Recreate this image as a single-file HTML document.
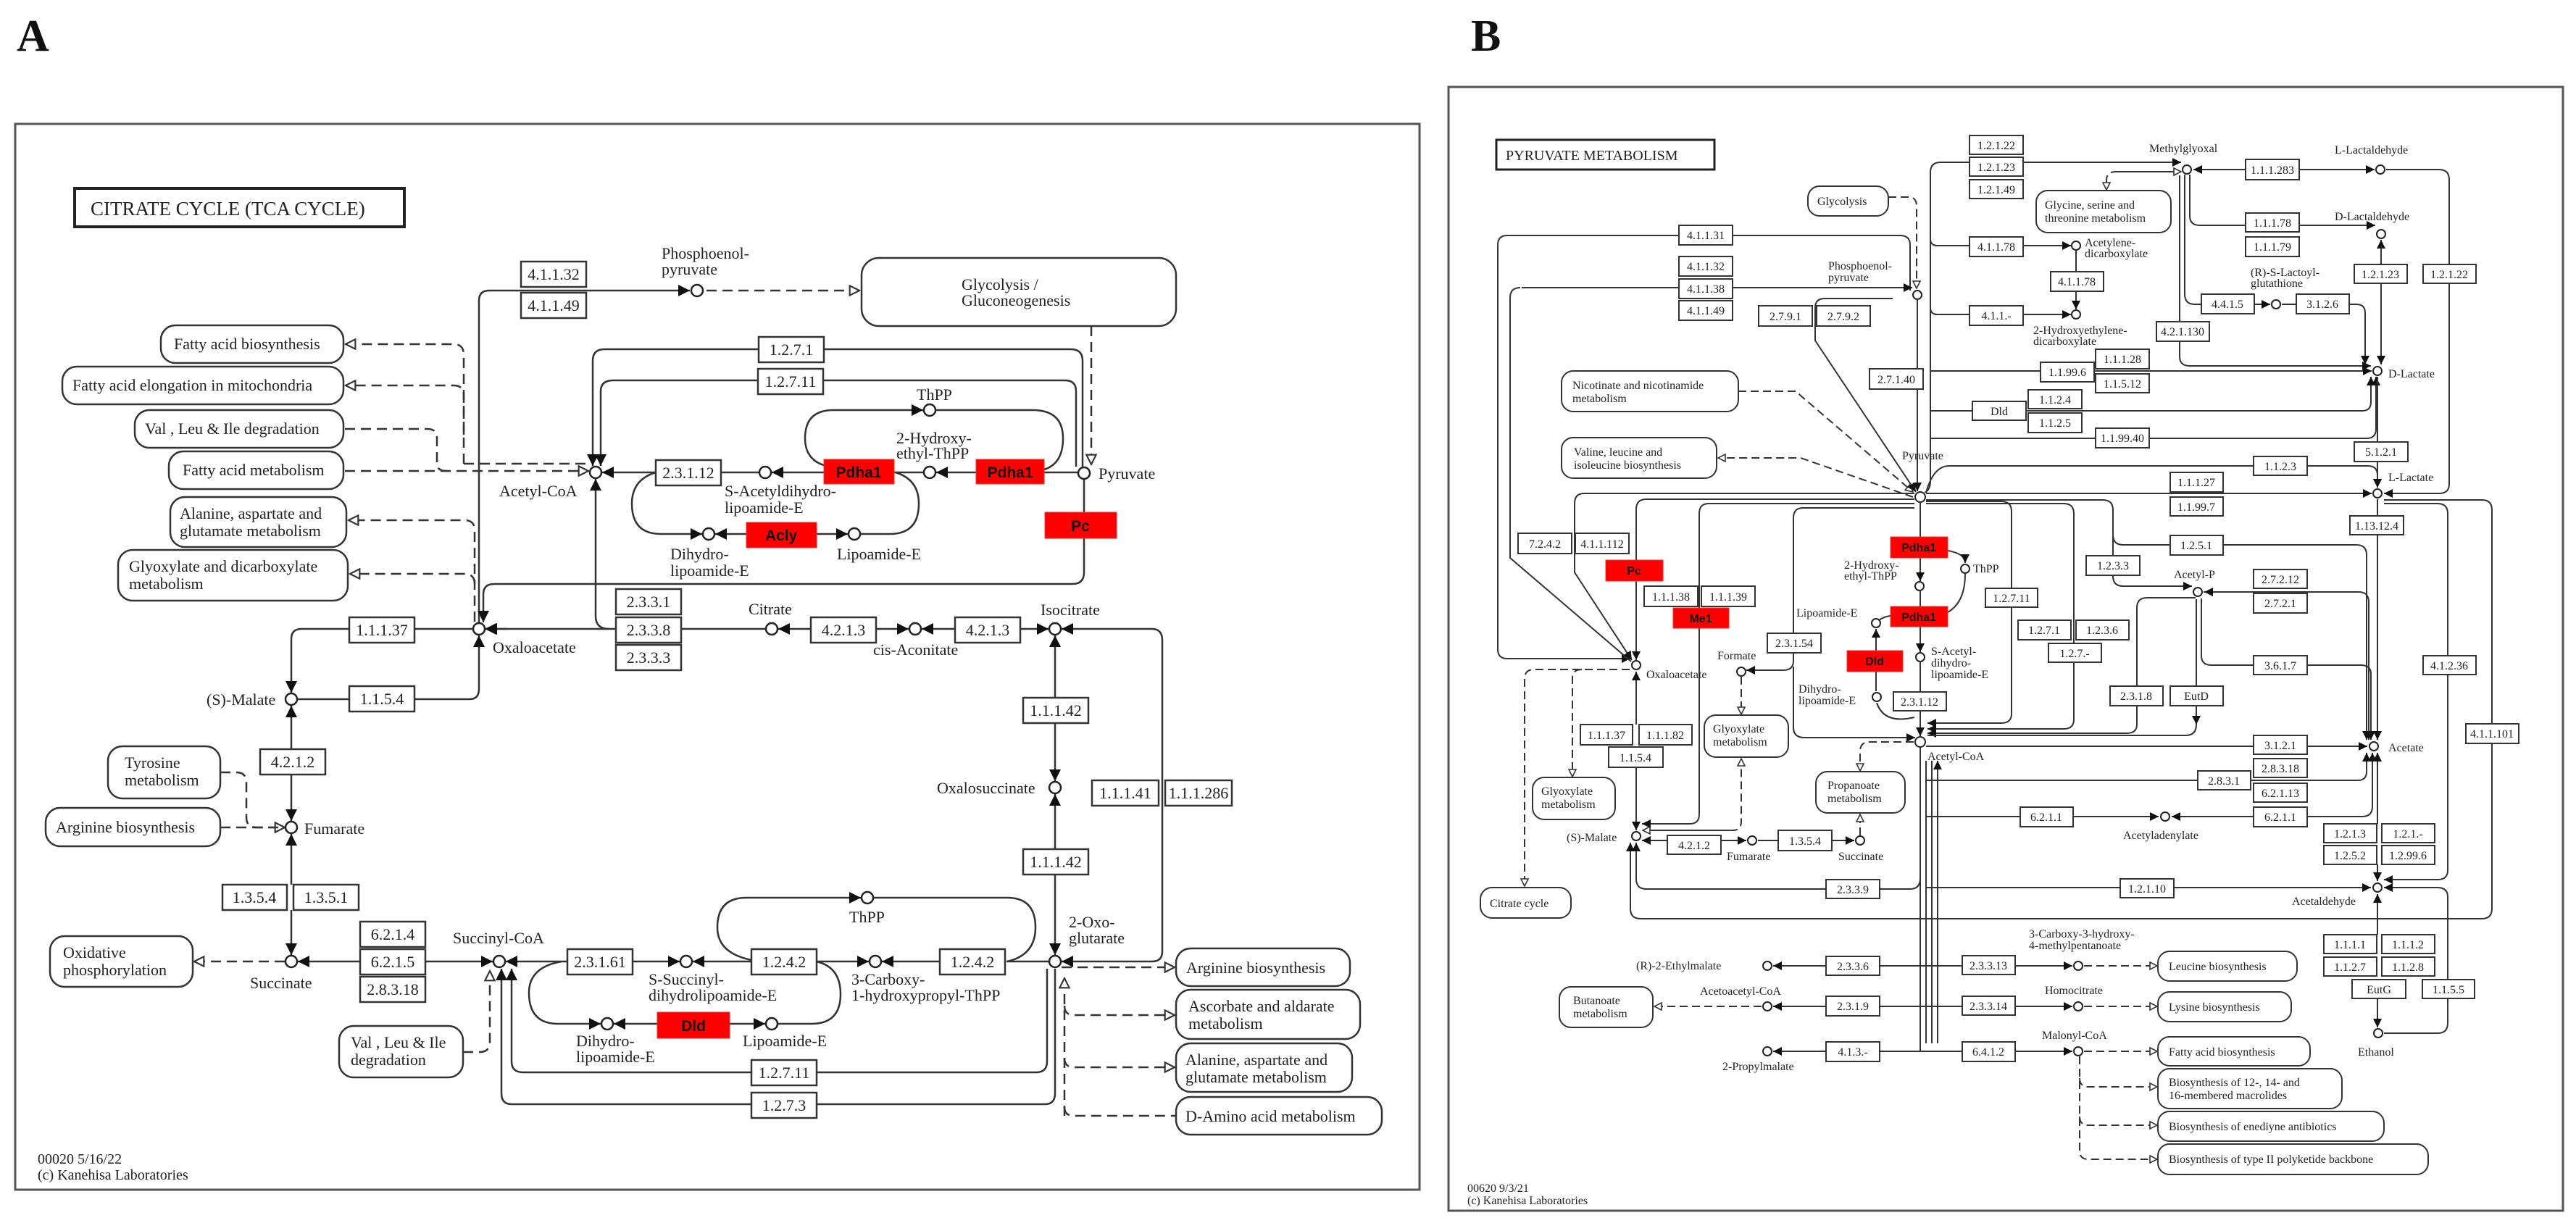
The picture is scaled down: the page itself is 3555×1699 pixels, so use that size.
<!DOCTYPE html>
<html><head><meta charset="utf-8"><style>
html,body{margin:0;padding:0;background:#fff;}
svg{display:block;}
.t{font-family:"Liberation Serif",serif;fill:#222;}
.A{font-size:22px;}
.B{font-size:16px;}
.c{text-anchor:middle;}
.e{fill:#fff;stroke:#333;stroke-width:2.5;}
.eb{fill:#fff;stroke:#333;stroke-width:2;}
.r{fill:#f00;stroke:#e33;stroke-width:1;}
.rt{font-family:"Liberation Sans",sans-serif;font-weight:bold;fill:#111;text-anchor:middle;}
.m{fill:#fff;stroke:#333;stroke-width:2.5;}
.ln{fill:none;stroke:#333;stroke-width:2.5;}
.lb{fill:none;stroke:#333;stroke-width:2;}
.d{fill:none;stroke:#333;stroke-width:2.5;stroke-dasharray:14,8;}
.db{fill:none;stroke:#333;stroke-width:2;stroke-dasharray:11,6;}
.cA{fill:#fff;stroke:#222;stroke-width:2.5;}
.cB{fill:#fff;stroke:#222;stroke-width:2;}
</style></head><body>
<svg width="3555" height="1699" viewBox="0 0 3555 1699" xmlns="http://www.w3.org/2000/svg">
<defs>
<marker id="f" viewBox="0 0 10 10" refX="10" refY="5" markerWidth="16" markerHeight="16" markerUnits="userSpaceOnUse" orient="auto"><path d="M0,0L10,5L0,10z" fill="#111"/></marker>
<marker id="o" viewBox="0 0 12 12" refX="11" refY="6" markerWidth="16" markerHeight="16" markerUnits="userSpaceOnUse" orient="auto"><path d="M1,1L11,6L1,11z" fill="#fff" stroke="#333" stroke-width="1.6"/></marker>
<marker id="g" viewBox="0 0 10 10" refX="10" refY="5" markerWidth="12" markerHeight="12" markerUnits="userSpaceOnUse" orient="auto"><path d="M0,0L10,5L0,10z" fill="#111"/></marker>
<marker id="p" viewBox="0 0 12 12" refX="11" refY="6" markerWidth="12" markerHeight="12" markerUnits="userSpaceOnUse" orient="auto"><path d="M1,1L11,6L1,11z" fill="#fff" stroke="#333" stroke-width="1.6"/></marker>
</defs>
<rect width="3555" height="1699" fill="#fff"/>
<text x="23" y="70" font-family="Liberation Serif,serif" font-weight="bold" font-size="62" fill="#111">A</text>
<text x="2030" y="70" font-family="Liberation Serif,serif" font-weight="bold" font-size="62" fill="#111">B</text>

<!-- ================= PANEL A ================= -->
<rect x="21" y="171" width="1938" height="1471" fill="none" stroke="#555" stroke-width="3"/>
<rect x="103" y="260" width="455" height="53" fill="#fff" stroke="#222" stroke-width="4"/>
<text class="t" x="125" y="297" font-size="27">CITRATE  CYCLE (TCA CYCLE)</text>

<!-- map boxes A -->
<rect class="m" x="1189" y="356" width="434" height="94" rx="24"/>
<text class="t A" x="1327" y="400" font-size="24">Glycolysis /</text><text class="t A" x="1327" y="422" font-size="24">Gluconeogenesis</text>
<rect class="m" x="222" y="449" width="252" height="52" rx="20"/><text class="t A" x="240" y="482">Fatty acid biosynthesis</text>
<rect class="m" x="86" y="506" width="388" height="52" rx="20"/><text class="t A" x="100" y="539">Fatty acid elongation in mitochondria</text>
<rect class="m" x="186" y="566" width="288" height="52" rx="20"/><text class="t A" x="200" y="599">Val , Leu &amp; Ile degradation</text>
<rect class="m" x="233" y="623" width="241" height="52" rx="20"/><text class="t A" x="252" y="656">Fatty acid metabolism</text>
<rect class="m" x="235" y="686" width="243" height="69" rx="20"/><text class="t A" x="248" y="716">Alanine, aspartate and</text><text class="t A" x="248" y="740">glutamate metabolism</text>
<rect class="m" x="163" y="759" width="317" height="70" rx="20"/><text class="t A" x="178" y="789">Glyoxylate and dicarboxylate</text><text class="t A" x="178" y="813">metabolism</text>
<rect class="m" x="149" y="1030" width="155" height="72" rx="20"/><text class="t A" x="172" y="1060">Tyrosine</text><text class="t A" x="172" y="1084">metabolism</text>
<rect class="m" x="63" y="1115" width="241" height="53" rx="20"/><text class="t A" x="77" y="1149">Arginine biosynthesis</text>
<rect class="m" x="69" y="1292" width="197" height="70" rx="20"/><text class="t A" x="87" y="1322">Oxidative</text><text class="t A" x="87" y="1346">phosphorylation</text>
<rect class="m" x="468" y="1416" width="171" height="71" rx="20"/><text class="t A" x="484" y="1446">Val , Leu &amp; Ile</text><text class="t A" x="484" y="1470">degradation</text>
<rect class="m" x="1623" y="1309" width="240" height="52" rx="20"/><text class="t A" x="1637" y="1343">Arginine biosynthesis</text>
<rect class="m" x="1623" y="1366" width="254" height="68" rx="20"/><text class="t A" x="1640" y="1396">Ascorbate and aldarate</text><text class="t A" x="1640" y="1420">metabolism</text>
<rect class="m" x="1623" y="1440" width="243" height="67" rx="20"/><text class="t A" x="1636" y="1470">Alanine, aspartate and</text><text class="t A" x="1636" y="1494">glutamate metabolism</text>
<rect class="m" x="1623" y="1514" width="284" height="52" rx="20"/><text class="t A" x="1636" y="1548">D-Amino acid metabolism</text>

<!-- dashed A -->
<path class="d" d="M975,401H1186" marker-end="url(#o)"/>
<path class="d" d="M1506,450V641" marker-end="url(#o)"/>
<path class="d" d="M640,640V490Q640,475 626,475H477" marker-end="url(#o)"/>
<path class="d" d="M640,600V546Q640,532 626,532H477" marker-end="url(#o)"/>
<path class="d" d="M476,592H590Q603,592 603,605V640Q603,650 616,650"/>
<path class="d" d="M476,650H812" marker-end="url(#o)"/>
<path class="d" d="M640,640H812"/>
<path class="d" d="M655,858V732Q655,718 641,718H481" marker-end="url(#o)"/>
<path class="d" d="M655,806Q655,792 641,792H483" marker-end="url(#o)"/>
<path class="d" d="M393,1327H268" marker-end="url(#o)"/>
<path class="d" d="M304,1066H326Q340,1066 340,1080V1128Q340,1142 354,1142H393" marker-end="url(#o)"/>
<path class="d" d="M304,1142H393"/>
<path class="d" d="M639,1452H662Q676,1452 676,1438V1340" marker-end="url(#o)"/>
<path class="d" d="M1465,1335H1621" marker-end="url(#o)"/>
<path class="d" d="M1469,1540V1350" marker-end="url(#o)"/>
<path class="d" d="M1469,1388Q1469,1401 1482,1401H1621" marker-end="url(#o)"/>
<path class="d" d="M1469,1460Q1469,1473 1482,1473H1621" marker-end="url(#o)"/>
<path class="d" d="M1469,1528Q1469,1540 1482,1540H1623"/>

<!-- solid A -->
<path class="ln" d="M661,859V415Q661,401 675,401H952" marker-end="url(#f)"/>
<path class="ln" d="M1494,644V498Q1494,482 1478,482H834Q818,482 818,498V643" marker-end="url(#f)"/>
<path class="ln" d="M1485,644V540Q1485,525 1470,525H846Q829,525 829,540V643" marker-end="url(#f)"/>
<path class="ln" d="M1496,661V790Q1496,806 1480,806H682Q667,806 667,820V859" marker-end="url(#f)"/>
<path class="ln" d="M1488,652H1441M1347,652H1292" marker-end="url(#f)"/>
<path class="ln" d="M1275,652H1234M1137,652H1065" marker-end="url(#f)"/>
<path class="ln" d="M1048,652H995M905,652H831" marker-end="url(#f)"/>
<path class="ln" d="M1150,645Q1111,640 1111,605Q1111,566 1150,566H1274" marker-end="url(#f)"/>
<path class="ln" d="M1291,566H1425Q1467,566 1467,605Q1467,640 1441,648"/>
<path class="ln" d="M905,652Q872,662 872,695Q872,737 912,737H969" marker-end="url(#f)"/>
<path class="ln" d="M1030,737H987" marker-end="url(#f)"/>
<path class="ln" d="M1127,737H1170" marker-end="url(#f)"/>
<path class="ln" d="M1187,737H1228Q1268,737 1268,695Q1268,662 1236,652"/>
<path class="ln" d="M840,868Q822,868 822,850V661" marker-end="url(#f)"/>
<path class="ln" d="M1056,868H669" marker-end="url(#f)"/>
<path class="ln" d="M700,868H670" marker-end="url(#f)"/>
<path class="ln" d="M1119,868H1074" marker-end="url(#f)"/>
<path class="ln" d="M1209,868H1254" marker-end="url(#f)"/>
<path class="ln" d="M1318,868H1272" marker-end="url(#f)"/>
<path class="ln" d="M1406,868H1447" marker-end="url(#f)"/>
<path class="ln" d="M1456,963V877" marker-end="url(#f)"/>
<path class="ln" d="M1456,996V1078" marker-end="url(#f)"/>
<path class="ln" d="M1456,1172V1096" marker-end="url(#f)"/>
<path class="ln" d="M1456,1207V1318" marker-end="url(#f)"/>
<path class="ln" d="M1590,1327Q1604,1327 1604,1313V884Q1604,868 1590,868H1465" marker-end="url(#f)"/>
<path class="ln" d="M1590,1327H1465" marker-end="url(#f)"/>
<path class="ln" d="M652,868H416Q402,868 402,882V956" marker-end="url(#f)"/>
<path class="ln" d="M411,965H648Q661,965 661,951V877" marker-end="url(#f)"/>
<path class="ln" d="M402,1034V974" marker-end="url(#f)"/>
<path class="ln" d="M402,1069V1133" marker-end="url(#f)"/>
<path class="ln" d="M402,1221V1151" marker-end="url(#f)"/>
<path class="ln" d="M402,1256V1318" marker-end="url(#f)"/>
<path class="ln" d="M497,1327H411" marker-end="url(#f)"/>
<path class="ln" d="M588,1327H680" marker-end="url(#f)"/>
<path class="ln" d="M783,1327H698" marker-end="url(#f)"/>
<path class="ln" d="M873,1327H938" marker-end="url(#f)"/>
<path class="ln" d="M1037,1327H956" marker-end="url(#f)"/>
<path class="ln" d="M1127,1327H1199" marker-end="url(#f)"/>
<path class="ln" d="M1297,1327H1217" marker-end="url(#f)"/>
<path class="ln" d="M1389,1327H1447"/>
<path class="ln" d="M1050,1327Q990,1320 990,1280Q990,1239 1030,1239H1188" marker-end="url(#f)"/>
<path class="ln" d="M1206,1239H1390Q1429,1239 1429,1280Q1429,1318 1390,1327"/>
<path class="ln" d="M775,1327Q730,1335 730,1370Q730,1413 770,1413H829" marker-end="url(#f)"/>
<path class="ln" d="M907,1413H847" marker-end="url(#f)"/>
<path class="ln" d="M1007,1413H1056" marker-end="url(#f)"/>
<path class="ln" d="M1073,1413H1120Q1160,1413 1160,1372Q1160,1335 1127,1327"/>
<path class="ln" d="M1445,1337V1465Q1445,1480 1430,1480H722Q706,1480 706,1465V1337" marker-end="url(#f)"/>
<path class="ln" d="M1456,1337V1509Q1456,1524 1442,1524H706Q692,1524 692,1509V1337" marker-end="url(#f)"/>

<!-- enzymes A -->
<g>
<rect class="e" x="719" y="361" width="90" height="35"/><text class="t A c" x="764" y="386">4.1.1.32</text>
<rect class="e" x="719" y="404" width="90" height="35"/><text class="t A c" x="764" y="429">4.1.1.49</text>
<rect class="e" x="1047" y="465" width="90" height="35"/><text class="t A c" x="1092" y="490">1.2.7.1</text>
<rect class="e" x="1046" y="509" width="90" height="35"/><text class="t A c" x="1091" y="534">1.2.7.11</text>
<rect class="e" x="905" y="635" width="90" height="35"/><text class="t A c" x="950" y="660">2.3.1.12</text>
<rect class="e" x="850" y="813" width="90" height="35"/><text class="t A c" x="895" y="838">2.3.3.1</text>
<rect class="e" x="850" y="852" width="90" height="35"/><text class="t A c" x="895" y="877">2.3.3.8</text>
<rect class="e" x="850" y="890" width="90" height="35"/><text class="t A c" x="895" y="915">2.3.3.3</text>
<rect class="e" x="1119" y="852" width="90" height="35"/><text class="t A c" x="1164" y="877">4.2.1.3</text>
<rect class="e" x="1318" y="852" width="90" height="35"/><text class="t A c" x="1363" y="877">4.2.1.3</text>
<rect class="e" x="482" y="852" width="90" height="35"/><text class="t A c" x="527" y="877">1.1.1.37</text>
<rect class="e" x="482" y="947" width="90" height="35"/><text class="t A c" x="527" y="972">1.1.5.4</text>
<rect class="e" x="359" y="1034" width="90" height="35"/><text class="t A c" x="404" y="1059">4.2.1.2</text>
<rect class="e" x="1412" y="963" width="90" height="35"/><text class="t A c" x="1457" y="988">1.1.1.42</text>
<rect class="e" x="1412" y="1172" width="90" height="35"/><text class="t A c" x="1457" y="1197">1.1.1.42</text>
<rect class="e" x="1507" y="1077" width="92" height="35"/><text class="t A c" x="1553" y="1102">1.1.1.41</text>
<rect class="e" x="1608" y="1077" width="92" height="35"/><text class="t A c" x="1654" y="1102">1.1.1.286</text>
<rect class="e" x="307" y="1221" width="89" height="35"/><text class="t A c" x="351" y="1246">1.3.5.4</text>
<rect class="e" x="405" y="1221" width="90" height="35"/><text class="t A c" x="450" y="1246">1.3.5.1</text>
<rect class="e" x="497" y="1272" width="90" height="35"/><text class="t A c" x="542" y="1297">6.2.1.4</text>
<rect class="e" x="497" y="1310" width="90" height="35"/><text class="t A c" x="542" y="1335">6.2.1.5</text>
<rect class="e" x="497" y="1348" width="90" height="35"/><text class="t A c" x="542" y="1373">2.8.3.18</text>
<rect class="e" x="783" y="1310" width="90" height="35"/><text class="t A c" x="828" y="1335">2.3.1.61</text>
<rect class="e" x="1037" y="1310" width="90" height="35"/><text class="t A c" x="1082" y="1335">1.2.4.2</text>
<rect class="e" x="1297" y="1310" width="90" height="35"/><text class="t A c" x="1342" y="1335">1.2.4.2</text>
<rect class="e" x="1037" y="1463" width="90" height="35"/><text class="t A c" x="1082" y="1488">1.2.7.11</text>
<rect class="e" x="1037" y="1508" width="90" height="35"/><text class="t A c" x="1082" y="1533">1.2.7.3</text>
</g>
<rect class="r" x="1137" y="634" width="97" height="34"/><text class="rt" x="1185" y="659" font-size="21">Pdha1</text>
<rect class="r" x="1347" y="634" width="94" height="34"/><text class="rt" x="1394" y="659" font-size="21">Pdha1</text>
<rect class="r" x="1030" y="721" width="97" height="35"/><text class="rt" x="1078" y="746" font-size="21">Acly</text>
<rect class="r" x="1442" y="707" width="99" height="36"/><text class="rt" x="1491" y="733" font-size="21">Pc</text>
<rect class="r" x="907" y="1397" width="100" height="36"/><text class="rt" x="957" y="1423" font-size="21">Dld</text>

<!-- circles A -->
<g class="cA">
<circle cx="962" cy="401" r="8"/><circle cx="822" cy="652" r="8"/><circle cx="1056" cy="652" r="8"/><circle cx="1283" cy="652" r="8"/>
<circle cx="1283" cy="566" r="8"/><circle cx="1496" cy="653" r="8"/><circle cx="978" cy="737" r="8"/><circle cx="1179" cy="737" r="8"/>
<circle cx="661" cy="868" r="8"/><circle cx="1065" cy="868" r="8"/><circle cx="1263" cy="868" r="8"/><circle cx="1456" cy="868" r="8"/>
<circle cx="1456" cy="1087" r="8"/><circle cx="1456" cy="1327" r="8"/><circle cx="402" cy="965" r="8"/><circle cx="402" cy="1142" r="8"/>
<circle cx="402" cy="1327" r="8"/><circle cx="689" cy="1327" r="8"/><circle cx="947" cy="1327" r="8"/><circle cx="1208" cy="1327" r="8"/>
<circle cx="1197" cy="1239" r="8"/><circle cx="838" cy="1413" r="8"/><circle cx="1065" cy="1413" r="8"/>
</g>
<!-- labels A -->
<g class="t A">
<text x="913" y="357">Phosphoenol-</text><text x="913" y="379">pyruvate</text>
<text x="1516" y="661">Pyruvate</text>
<text x="1265" y="552">ThPP</text>
<text x="1237" y="612">2-Hydroxy-</text><text x="1237" y="633">ethyl-ThPP</text>
<text x="689" y="685">Acetyl-CoA</text>
<text x="1000" y="685">S-Acetyldihydro-</text><text x="1000" y="708">lipoamide-E</text>
<text x="925" y="772">Dihydro-</text><text x="925" y="795">lipoamide-E</text>
<text x="1155" y="772">Lipoamide-E</text>
<text x="1033" y="848">Citrate</text>
<text x="1436" y="849">Isocitrate</text>
<text x="1205" y="904">cis-Aconitate</text>
<text x="680" y="901">Oxaloacetate</text>
<text x="285" y="973">(S)-Malate</text>
<text x="420" y="1151">Fumarate</text>
<text x="1293" y="1095">Oxalosuccinate</text>
<text x="345" y="1364">Succinate</text>
<text x="625" y="1302">Succinyl-CoA</text>
<text x="1172" y="1273">ThPP</text>
<text x="1475" y="1280">2-Oxo-</text><text x="1475" y="1302">glutarate</text>
<text x="895" y="1359">S-Succinyl-</text><text x="895" y="1381">dihydrolipoamide-E</text>
<text x="1175" y="1359">3-Carboxy-</text><text x="1175" y="1381">1-hydroxypropyl-ThPP</text>
<text x="795" y="1444">Dihydro-</text><text x="795" y="1466">lipoamide-E</text>
<text x="1025" y="1444">Lipoamide-E</text>
<text x="52" y="1606" font-size="20">00020 5/16/22</text><text x="52" y="1628" font-size="20">(c) Kanehisa Laboratories</text>
</g>

<!-- ================= PANEL B ================= -->
<rect x="1999" y="120" width="1538" height="1551" fill="none" stroke="#555" stroke-width="3"/>
<rect x="2065" y="193" width="301" height="41" fill="#fff" stroke="#222" stroke-width="3"/>
<text class="t" x="2078" y="221" font-size="20">PYRUVATE  METABOLISM</text>

<!-- map boxes B -->
<g class="t B">
<rect class="eb" x="2495" y="257" width="111" height="41" rx="16"/><text x="2508" y="283">Glycolysis</text>
<rect class="eb" x="2810" y="263" width="186" height="58" rx="16"/><text x="2822" y="288">Glycine, serine and</text><text x="2822" y="306">threonine metabolism</text>
<rect class="eb" x="2155" y="512" width="244" height="56" rx="16"/><text x="2170" y="537">Nicotinate and nicotinamide</text><text x="2170" y="555">metabolism</text>
<rect class="eb" x="2155" y="604" width="214" height="56" rx="16"/><text x="2172" y="629">Valine, leucine and</text><text x="2172" y="647">isoleucine biosynthesis</text>
<rect class="eb" x="2352" y="987" width="116" height="58" rx="16"/><text x="2364" y="1011">Glyoxylate</text><text x="2364" y="1029">metabolism</text>
<rect class="eb" x="2115" y="1073" width="114" height="58" rx="16"/><text x="2127" y="1097">Glyoxylate</text><text x="2127" y="1115">metabolism</text>
<rect class="eb" x="2506" y="1065" width="123" height="57" rx="16"/><text x="2522" y="1089">Propanoate</text><text x="2522" y="1107">metabolism</text>
<rect class="eb" x="2043" y="1225" width="125" height="42" rx="16"/><text x="2056" y="1252">Citrate cycle</text>
<rect class="eb" x="2152" y="1362" width="129" height="56" rx="16"/><text x="2171" y="1386">Butanoate</text><text x="2171" y="1404">metabolism</text>
<rect class="eb" x="2978" y="1313" width="192" height="41" rx="16"/><text x="2993" y="1339">Leucine biosynthesis</text>
<rect class="eb" x="2978" y="1369" width="184" height="41" rx="16"/><text x="2993" y="1395">Lysine biosynthesis</text>
<rect class="eb" x="2978" y="1431" width="210" height="40" rx="16"/><text x="2993" y="1457">Fatty acid biosynthesis</text>
<rect class="eb" x="2978" y="1475" width="254" height="55" rx="16"/><text x="2993" y="1499">Biosynthesis of 12-, 14- and</text><text x="2993" y="1517">16-membered macrolides</text>
<rect class="eb" x="2978" y="1534" width="312" height="41" rx="16"/><text x="2993" y="1560">Biosynthesis of enediyne antibiotics</text>
<rect class="eb" x="2978" y="1579" width="373" height="42" rx="16"/><text x="2993" y="1605">Biosynthesis of type II polyketide backbone</text>
</g>

<!-- dashed B -->
<path class="db" d="M2606,272H2634Q2645,272 2645,284V398" marker-end="url(#p)"/>
<path class="db" d="M2399,540H2478L2640,679" marker-end="url(#p)"/>
<path class="db" d="M2640,686L2485,632H2371" marker-end="url(#p)"/>
<path class="db" d="M3009,237H2920Q2907,237 2907,249V262" marker-end="url(#p)"/>
<path class="db" d="M2920,237H3010" marker-end="url(#p)"/>
<path class="db" d="M2249,924H2117Q2104,924 2104,937V1223" marker-end="url(#p)"/>
<path class="db" d="M2183,924Q2170,924 2170,936V1072" marker-end="url(#p)"/>
<path class="db" d="M2403,934V986" marker-end="url(#p)"/>
<path class="db" d="M2268,1146H2391Q2403,1146 2403,1134V1047" marker-end="url(#p)"/>
<path class="db" d="M2391,1146H2267" marker-end="url(#p)"/>
<path class="db" d="M2641,1024H2580Q2567,1024 2567,1037V1064" marker-end="url(#p)"/>
<path class="db" d="M2567,1153V1124" marker-end="url(#p)"/>
<path class="db" d="M2431,1389H2283" marker-end="url(#p)"/>
<path class="db" d="M2876,1333H2977" marker-end="url(#p)"/>
<path class="db" d="M2876,1389H2977" marker-end="url(#p)"/>
<path class="db" d="M2876,1451H2977" marker-end="url(#p)"/>
<path class="db" d="M2870,1458V1588Q2870,1600 2882,1600H2977" marker-end="url(#p)"/>
<path class="db" d="M2870,1488Q2870,1500 2882,1500H2977" marker-end="url(#p)"/>
<path class="db" d="M2870,1541Q2870,1553 2882,1553H2977" marker-end="url(#p)"/>

<!-- solid B -->
<path class="lb" d="M2646,414V678" marker-end="url(#g)"/>
<path class="lb" d="M2636,401V338Q2636,325 2622,325H2080Q2067,325 2067,338V896Q2067,909 2080,909H2250" marker-end="url(#g)"/>
<path class="lb" d="M2098,397Q2084,397 2084,411V770L2251,913"/>
<path class="lb" d="M2100,397H2639" marker-end="url(#g)"/>
<path class="lb" d="M2612,412H2518Q2505,412 2505,425V470L2644,679" marker-end="url(#g)"/>
<path class="lb" d="M2642,681H2186Q2173,681 2173,695V790L2252,911" marker-end="url(#g)"/>
<path class="lb" d="M2642,689H2272Q2258,689 2258,703V911" marker-end="url(#g)"/>
<path class="lb" d="M2642,695H2358Q2345,695 2345,709V1124Q2345,1137 2332,1137H2266" marker-end="url(#g)"/>
<path class="lb" d="M2642,701H2488Q2475,701 2475,715V912Q2475,925 2461,925H2410" marker-end="url(#g)"/>
<path class="lb" d="M2475,920V1004Q2475,1018 2490,1018H2643" marker-end="url(#g)"/>
<!-- pyruvate up bundle -->
<path class="lb" d="M2656,680Q2664,676 2664,664V238Q2664,224 2678,224H3010" marker-end="url(#g)"/>
<path class="lb" d="M2670,339H2858" marker-end="url(#g)"/>
<path class="lb" d="M2670,434H2858" marker-end="url(#g)"/>
<path class="lb" d="M2664,330Q2664,339 2674,339M2664,425Q2664,434 2674,434"/>
<path class="lb" d="M2865,375V346M2865,402V427" marker-end="url(#g)"/>
<path class="lb" d="M2664,512H3273" marker-end="url(#g)"/>
<path class="lb" d="M2664,567H3260Q3272,567 3272,555V520" marker-end="url(#g)"/>
<path class="lb" d="M2664,605H3266Q3279,605 3279,592V520" marker-end="url(#g)"/>
<path class="lb" d="M2658,680Q2668,643 2690,643H3268Q3281,643 3281,656V673" marker-end="url(#g)"/>
<path class="lb" d="M2658,681H3273" marker-end="url(#g)"/>
<path class="lb" d="M2658,690H2902Q2916,690 2916,704V738Q2916,752 2930,752H3252Q3266,752 3266,766V1021" marker-end="url(#g)"/>
<path class="lb" d="M2916,740V795Q2916,809 2930,809H3025" marker-end="url(#g)"/>
<path class="lb" d="M2658,692H2762Q2776,692 2776,706V985Q2776,998 2762,998H2660" marker-end="url(#g)"/>
<path class="lb" d="M2658,695H2848Q2862,695 2862,709V993Q2862,1006 2848,1006H2660" marker-end="url(#g)"/>
<!-- methylglyoxal area -->
<path class="lb" d="M3099,234H3027" marker-end="url(#g)"/>
<path class="lb" d="M3173,234H3277" marker-end="url(#g)"/>
<path class="lb" d="M3022,241V298Q3022,311 3036,311H3278" marker-end="url(#g)"/>
<path class="lb" d="M3015,241V406Q3015,420 3029,420H3133" marker-end="url(#g)"/>
<path class="lb" d="M3008,242V492Q3008,505 3022,505H3272" marker-end="url(#g)"/>
<path class="lb" d="M3149,420H3252Q3264,420 3264,432V503" marker-end="url(#g)"/>
<path class="lb" d="M3286,500V331" marker-end="url(#g)"/>
<path class="lb" d="M3286,340V503" marker-end="url(#g)"/>
<path class="lb" d="M3293,234H3366Q3380,234 3380,248V668Q3380,681 3366,681H3290" marker-end="url(#g)"/>
<path class="lb" d="M3281,520V673" marker-end="url(#g)"/>
<path class="lb" d="M3281,689V1021" marker-end="url(#g)"/>
<path class="lb" d="M3290,690H3425Q3439,690 3439,704V1254Q3439,1268 3425,1268H2264Q2250,1268 2250,1254V1163" marker-end="url(#g)"/>
<path class="lb" d="M3290,695H3364Q3378,695 3378,709V1201Q3378,1214 3364,1214H3290" marker-end="url(#g)"/>
<path class="lb" d="M3041,817H3255Q3269,817 3269,831V1021" marker-end="url(#g)"/>
<path class="lb" d="M3098,817H3042" marker-end="url(#g)"/>
<path class="lb" d="M3038,826V905Q3038,918 3052,918H3258Q3272,918 3272,930V1021" marker-end="url(#g)"/>
<path class="lb" d="M3030,825H2963Q2949,825 2949,839V1000Q2949,1012 2935,1012H2660" marker-end="url(#g)"/>
<path class="lb" d="M3031,1000Q3031,1015 3016,1015H2660M3031,827V1000" marker-end="url(#g)"/>
<!-- pyruvate to acetyl-CoA -->
<path class="lb" d="M2650,694V802" marker-end="url(#g)"/>
<path class="lb" d="M2650,816V900" marker-end="url(#g)"/>
<path class="lb" d="M2650,914V1016" marker-end="url(#g)"/>
<path class="lb" d="M2660,758Q2712,758 2712,777" marker-end="url(#g)"/>
<path class="lb" d="M2712,792Q2712,850 2660,852"/>
<path class="lb" d="M2641,850Q2589,845 2589,866"/>
<path class="lb" d="M2589,954V868" marker-end="url(#g)"/>
<path class="lb" d="M2590,970Q2600,1000 2642,990"/>
<!-- acetyl-CoA outputs -->
<path class="lb" d="M2658,1030H3267" marker-end="url(#g)"/>
<path class="lb" d="M2658,1077H3254Q3266,1077 3266,1065V1039" marker-end="url(#g)"/>
<path class="lb" d="M2658,1127H2979" marker-end="url(#g)"/>
<path class="lb" d="M3110,1127H2997" marker-end="url(#g)"/>
<path class="lb" d="M3184,1127H3260Q3274,1127 3274,1113V1039" marker-end="url(#g)"/>
<path class="lb" d="M3281,1137V1039" marker-end="url(#g)"/>
<path class="lb" d="M3281,1193V1216" marker-end="url(#g)"/>
<path class="lb" d="M2658,1225H3272" marker-end="url(#g)"/>
<path class="lb" d="M3281,1290V1234" marker-end="url(#g)"/>
<path class="lb" d="M3281,1378V1418" marker-end="url(#g)"/>
<path class="lb" d="M3290,1426H3364Q3378,1426 3378,1412V1238Q3378,1225 3364,1225H3290" marker-end="url(#g)"/>
<path class="lb" d="M2650,1032V1451"/>
<path class="lb" d="M2658,1440V1050M2666,1440V1050M2674,1440V1050" marker-end="url(#g)"/>
<path class="lb" d="M2650,1212Q2650,1227 2636,1227H2272Q2258,1227 2258,1213V1163" marker-end="url(#g)"/>
<path class="lb" d="M2650,1333H2447" marker-end="url(#g)"/>
<path class="lb" d="M2650,1389H2447" marker-end="url(#g)"/>
<path class="lb" d="M2650,1451H2447" marker-end="url(#g)"/>
<path class="lb" d="M2650,1333H2860" marker-end="url(#g)"/>
<path class="lb" d="M2650,1389H2860" marker-end="url(#g)"/>
<path class="lb" d="M2650,1451H2860" marker-end="url(#g)"/>
<!-- TCA small -->
<path class="lb" d="M2258,1000V927" marker-end="url(#g)"/>
<path class="lb" d="M2258,1059V1146" marker-end="url(#g)"/>
<path class="lb" d="M2301,1160H2266" marker-end="url(#g)"/>
<path class="lb" d="M2375,1160H2410" marker-end="url(#g)"/>
<path class="lb" d="M2426,1160H2559" marker-end="url(#g)"/>

<!-- enzymes B -->
<g class="t B c">
<rect class="eb" x="2317" y="311" width="74" height="27"/><text x="2354" y="330">4.1.1.31</text>
<rect class="eb" x="2317" y="354" width="74" height="27"/><text x="2354" y="373">4.1.1.32</text>
<rect class="eb" x="2317" y="385" width="74" height="27"/><text x="2354" y="404">4.1.1.38</text>
<rect class="eb" x="2317" y="415" width="74" height="27"/><text x="2354" y="434">4.1.1.49</text>
<rect class="eb" x="2427" y="422" width="74" height="28"/><text x="2464" y="442">2.7.9.1</text>
<rect class="eb" x="2507" y="422" width="74" height="28"/><text x="2544" y="442">2.7.9.2</text>
<rect class="eb" x="2580" y="509" width="74" height="28"/><text x="2617" y="529">2.7.1.40</text>
<rect class="eb" x="2095" y="736" width="74" height="28"/><text x="2132" y="756">7.2.4.2</text>
<rect class="eb" x="2174" y="736" width="74" height="28"/><text x="2211" y="756">4.1.1.112</text>
<rect class="eb" x="2269" y="809" width="74" height="28"/><text x="2306" y="829">1.1.1.38</text>
<rect class="eb" x="2348" y="809" width="74" height="28"/><text x="2385" y="829">1.1.1.39</text>
<rect class="eb" x="2439" y="874" width="74" height="27"/><text x="2476" y="893">2.3.1.54</text>
<rect class="eb" x="2718" y="187" width="74" height="26"/><text x="2755" y="206">1.2.1.22</text>
<rect class="eb" x="2718" y="217" width="74" height="26"/><text x="2755" y="236">1.2.1.23</text>
<rect class="eb" x="2718" y="248" width="74" height="26"/><text x="2755" y="267">1.2.1.49</text>
<rect class="eb" x="3099" y="220" width="74" height="28"/><text x="3136" y="240">1.1.1.283</text>
<rect class="eb" x="2718" y="327" width="74" height="27"/><text x="2755" y="346">4.1.1.78</text>
<rect class="eb" x="2830" y="375" width="73" height="27"/><text x="2866" y="394">4.1.1.78</text>
<rect class="eb" x="2718" y="422" width="74" height="27"/><text x="2755" y="441">4.1.1.-</text>
<rect class="eb" x="3099" y="294" width="74" height="26"/><text x="3136" y="313">1.1.1.78</text>
<rect class="eb" x="3099" y="327" width="74" height="27"/><text x="3136" y="346">1.1.1.79</text>
<rect class="eb" x="3038" y="406" width="73" height="27"/><text x="3074" y="425">4.4.1.5</text>
<rect class="eb" x="3169" y="406" width="73" height="27"/><text x="3205" y="425">3.1.2.6</text>
<rect class="eb" x="3249" y="365" width="73" height="26"/><text x="3285" y="384">1.2.1.23</text>
<rect class="eb" x="3344" y="365" width="73" height="26"/><text x="3380" y="384">1.2.1.22</text>
<rect class="eb" x="2976" y="444" width="73" height="27"/><text x="3012" y="463">4.2.1.130</text>
<rect class="eb" x="2892" y="482" width="74" height="27"/><text x="2929" y="501">1.1.1.28</text>
<rect class="eb" x="2892" y="516" width="74" height="26"/><text x="2929" y="535">1.1.5.12</text>
<rect class="eb" x="2816" y="500" width="74" height="27"/><text x="2853" y="519">1.1.99.6</text>
<rect class="eb" x="2722" y="554" width="74" height="26"/><text x="2759" y="573">Dld</text>
<rect class="eb" x="2799" y="538" width="74" height="26"/><text x="2836" y="557">1.1.2.4</text>
<rect class="eb" x="2799" y="570" width="74" height="27"/><text x="2836" y="589">1.1.2.5</text>
<rect class="eb" x="2892" y="591" width="74" height="27"/><text x="2929" y="610">1.1.99.40</text>
<rect class="eb" x="3249" y="610" width="74" height="27"/><text x="3286" y="629">5.1.2.1</text>
<rect class="eb" x="3110" y="630" width="74" height="26"/><text x="3147" y="649">1.1.2.3</text>
<rect class="eb" x="2995" y="652" width="73" height="27"/><text x="3031" y="671">1.1.1.27</text>
<rect class="eb" x="2995" y="686" width="73" height="26"/><text x="3031" y="705">1.1.99.7</text>
<rect class="eb" x="3243" y="712" width="74" height="26"/><text x="3280" y="731">1.13.12.4</text>
<rect class="eb" x="2995" y="739" width="73" height="27"/><text x="3031" y="758">1.2.5.1</text>
<rect class="eb" x="2879" y="767" width="74" height="27"/><text x="2916" y="786">1.2.3.3</text>
<rect class="eb" x="2740" y="812" width="72" height="26"/><text x="2776" y="831">1.2.7.11</text>
<rect class="eb" x="3110" y="786" width="74" height="26"/><text x="3147" y="805">2.7.2.12</text>
<rect class="eb" x="3110" y="819" width="74" height="27"/><text x="3147" y="838">2.7.2.1</text>
<rect class="eb" x="2785" y="856" width="73" height="27"/><text x="2821" y="875">1.2.7.1</text>
<rect class="eb" x="2865" y="856" width="73" height="27"/><text x="2901" y="875">1.2.3.6</text>
<rect class="eb" x="2827" y="888" width="73" height="26"/><text x="2863" y="907">1.2.7.-</text>
<rect class="eb" x="3110" y="905" width="74" height="26"/><text x="3147" y="924">3.6.1.7</text>
<rect class="eb" x="2912" y="947" width="73" height="27"/><text x="2948" y="966">2.3.1.8</text>
<rect class="eb" x="2995" y="947" width="73" height="27"/><text x="3031" y="966">EutD</text>
<rect class="eb" x="3344" y="905" width="73" height="26"/><text x="3380" y="924">4.1.2.36</text>
<rect class="eb" x="3403" y="999" width="73" height="27"/><text x="3439" y="1018">4.1.1.101</text>
<rect class="eb" x="3110" y="1015" width="74" height="26"/><text x="3147" y="1034">3.1.2.1</text>
<rect class="eb" x="3110" y="1047" width="74" height="26"/><text x="3147" y="1066">2.8.3.18</text>
<rect class="eb" x="3110" y="1081" width="74" height="26"/><text x="3147" y="1100">6.2.1.13</text>
<rect class="eb" x="3033" y="1064" width="73" height="26"/><text x="3069" y="1083">2.8.3.1</text>
<rect class="eb" x="2788" y="1114" width="73" height="27"/><text x="2824" y="1133">6.2.1.1</text>
<rect class="eb" x="3110" y="1114" width="74" height="27"/><text x="3147" y="1133">6.2.1.1</text>
<rect class="eb" x="3207" y="1137" width="73" height="26"/><text x="3243" y="1156">1.2.1.3</text>
<rect class="eb" x="3287" y="1137" width="73" height="26"/><text x="3323" y="1156">1.2.1.-</text>
<rect class="eb" x="3207" y="1167" width="73" height="26"/><text x="3243" y="1186">1.2.5.2</text>
<rect class="eb" x="3287" y="1167" width="73" height="26"/><text x="3323" y="1186">1.2.99.6</text>
<rect class="eb" x="2926" y="1213" width="74" height="26"/><text x="2963" y="1232">1.2.1.10</text>
<rect class="eb" x="3207" y="1290" width="73" height="26"/><text x="3243" y="1309">1.1.1.1</text>
<rect class="eb" x="3287" y="1290" width="73" height="26"/><text x="3323" y="1309">1.1.1.2</text>
<rect class="eb" x="3207" y="1321" width="73" height="26"/><text x="3243" y="1340">1.1.2.7</text>
<rect class="eb" x="3287" y="1321" width="73" height="26"/><text x="3323" y="1340">1.1.2.8</text>
<rect class="eb" x="3246" y="1352" width="74" height="26"/><text x="3283" y="1371">EutG</text>
<rect class="eb" x="3343" y="1352" width="72" height="26"/><text x="3379" y="1371">1.1.5.5</text>
<rect class="eb" x="2708" y="1319" width="73" height="26"/><text x="2744" y="1338">2.3.3.13</text>
<rect class="eb" x="2708" y="1375" width="73" height="26"/><text x="2744" y="1394">2.3.3.14</text>
<rect class="eb" x="2708" y="1438" width="73" height="27"/><text x="2744" y="1457">6.4.1.2</text>
<rect class="eb" x="2181" y="1000" width="72" height="28"/><text x="2217" y="1020">1.1.1.37</text>
<rect class="eb" x="2262" y="1000" width="73" height="28"/><text x="2298" y="1020">1.1.1.82</text>
<rect class="eb" x="2220" y="1031" width="75" height="28"/><text x="2257" y="1051">1.1.5.4</text>
<rect class="eb" x="2613" y="955" width="73" height="26"/><text x="2649" y="974">2.3.1.12</text>
<rect class="eb" x="2301" y="1153" width="74" height="26"/><text x="2338" y="1172">4.2.1.2</text>
<rect class="eb" x="2454" y="1146" width="74" height="28"/><text x="2491" y="1166">1.3.5.4</text>
<rect class="eb" x="2520" y="1214" width="74" height="26"/><text x="2557" y="1233">2.3.3.9</text>
<rect class="eb" x="2520" y="1320" width="74" height="26"/><text x="2557" y="1339">2.3.3.6</text>
<rect class="eb" x="2520" y="1375" width="74" height="27"/><text x="2557" y="1394">2.3.1.9</text>
<rect class="eb" x="2520" y="1438" width="74" height="27"/><text x="2557" y="1457">4.1.3.-</text>
</g>
<rect class="r" x="2216" y="773" width="79" height="29"/><text class="rt" x="2255" y="793" font-size="16">Pc</text>
<rect class="r" x="2309" y="839" width="77" height="28"/><text class="rt" x="2347" y="859" font-size="16">Me1</text>
<rect class="r" x="2609" y="741" width="79" height="29"/><text class="rt" x="2648" y="761" font-size="16">Pdha1</text>
<rect class="r" x="2609" y="837" width="79" height="28"/><text class="rt" x="2648" y="857" font-size="16">Pdha1</text>
<rect class="r" x="2549" y="898" width="77" height="29"/><text class="rt" x="2587" y="918" font-size="16">Dld</text>

<!-- circles B -->
<g class="cB">
<circle cx="2646" cy="407" r="6"/><circle cx="2650" cy="686" r="7"/><circle cx="3018" cy="234" r="6"/><circle cx="3285" cy="234" r="6"/>
<circle cx="2865" cy="339" r="6"/><circle cx="2865" cy="434" r="6"/><circle cx="3286" cy="323" r="6"/><circle cx="3141" cy="420" r="6"/>
<circle cx="3281" cy="512" r="6"/><circle cx="3281" cy="681" r="6"/><circle cx="2712" cy="785" r="6"/><circle cx="3033" cy="817" r="6"/>
<circle cx="2649" cy="809" r="6"/><circle cx="2589" cy="860" r="6"/><circle cx="2650" cy="907" r="6"/><circle cx="2590" cy="962" r="6"/>
<circle cx="2650" cy="1024" r="7"/><circle cx="2258" cy="918" r="6"/><circle cx="2403" cy="927" r="6"/><circle cx="2258" cy="1154" r="6"/>
<circle cx="2418" cy="1160" r="6"/><circle cx="2567" cy="1160" r="6"/><circle cx="3276" cy="1030" r="6"/><circle cx="2988" cy="1127" r="6"/>
<circle cx="3281" cy="1225" r="6"/><circle cx="3282" cy="1426" r="6"/><circle cx="2868" cy="1333" r="6"/><circle cx="2868" cy="1389" r="6"/>
<circle cx="2868" cy="1451" r="6"/><circle cx="2439" cy="1333" r="6"/><circle cx="2439" cy="1389" r="6"/><circle cx="2439" cy="1451" r="6"/>
</g>
<!-- labels B -->
<g class="t B">
<text x="2523" y="372">Phosphoenol-</text><text x="2523" y="388">pyruvate</text>
<text x="2625" y="634">Pyruvate</text>
<text x="2966" y="210">Methylglyoxal</text>
<text x="3222" y="212">L-Lactaldehyde</text>
<text x="3222" y="304">D-Lactaldehyde</text>
<text x="2877" y="340">Acetylene-</text><text x="2877" y="355">dicarboxylate</text>
<text x="2806" y="461">2-Hydroxyethylene-</text><text x="2806" y="476">dicarboxylate</text>
<text x="3106" y="381">(R)-S-Lactoyl-</text><text x="3106" y="396">glutathione</text>
<text x="3296" y="521">D-Lactate</text>
<text x="3296" y="664">L-Lactate</text>
<text x="2723" y="790">ThPP</text>
<text x="3000" y="798">Acetyl-P</text>
<text x="2545" y="785">2-Hydroxy-</text><text x="2545" y="800">ethyl-ThPP</text>
<text x="2479" y="851">Lipoamide-E</text>
<text x="2665" y="904">S-Acetyl-</text><text x="2665" y="920">dihydro-</text><text x="2665" y="936">lipoamide-E</text>
<text x="2482" y="956">Dihydro-</text><text x="2482" y="972">lipoamide-E</text>
<text x="2370" y="910">Formate</text>
<text x="2272" y="936">Oxaloacetate</text>
<text x="2660" y="1049">Acetyl-CoA</text>
<text x="3296" y="1037">Acetate</text>
<text x="2930" y="1158">Acetyladenylate</text>
<text x="3163" y="1249">Acetaldehyde</text>
<text x="3254" y="1457">Ethanol</text>
<text x="2162" y="1161">(S)-Malate</text>
<text x="2383" y="1187">Fumarate</text>
<text x="2537" y="1187">Succinate</text>
<text x="2258" y="1338">(R)-2-Ethylmalate</text>
<text x="2346" y="1373">Acetoacetyl-CoA</text>
<text x="2377" y="1477">2-Propylmalate</text>
<text x="2800" y="1294">3-Carboxy-3-hydroxy-</text><text x="2800" y="1310">4-methylpentanoate</text>
<text x="2822" y="1372">Homocitrate</text>
<text x="2818" y="1434">Malonyl-CoA</text>
<text x="2025" y="1645">00620 9/3/21</text><text x="2025" y="1662">(c) Kanehisa Laboratories</text>
</g>
</svg>
</body></html>
